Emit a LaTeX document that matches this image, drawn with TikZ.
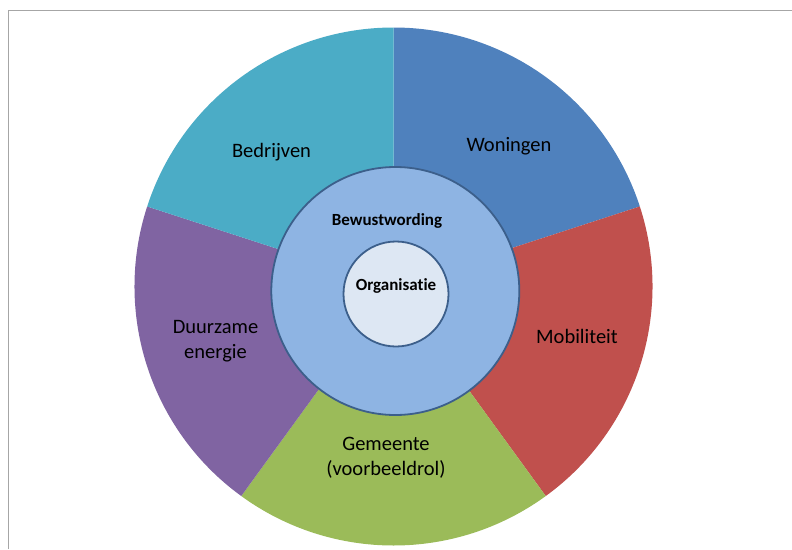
\documentclass[tikz,border=0pt]{standalone}
\usepackage{fontspec}
\setmainfont{Carlito}[RawFeature={-liga}]
\definecolor{cBed}{HTML}{4BACC6}
\definecolor{cWon}{HTML}{4F81BD}
\definecolor{cMob}{HTML}{C0504D}
\definecolor{cGem}{HTML}{9BBB59}
\definecolor{cDuu}{HTML}{8064A2}
\definecolor{cMid}{HTML}{8EB4E3}
\definecolor{cCore}{HTML}{DDE7F3}
\definecolor{cEdge}{HTML}{3C5F8B}
\definecolor{cFrame}{HTML}{A6A6A6}
\tikzset{
  outerlbl/.style={font=\fontsize{20.5}{25}\selectfont, text=black, align=center, inner sep=0pt, anchor=base},
  innerlbl/.style={font=\fontsize{17}{20}\selectfont\bfseries, text=black, inner sep=0pt, anchor=base},
  ring/.style={circle, draw=cEdge, line width=1.8pt, inner sep=0pt}
}
\begin{document}
\begin{tikzpicture}[x=1pt,y=-1pt]
\useasboundingbox (0,0) rectangle (792,549);
\fill[white] (0,0) rectangle (792,549);
% frame
\draw[cFrame, line width=1pt] (8.5,549) -- (8.5,10.5) -- (792,10.5);
\coordinate (c) at (393.5,286.5);
% wedges
\fill[cWon] (c) -- ++(90:259pt) arc[start angle=90, end angle=18, radius=259pt] -- cycle;
\fill[cMob] (c) -- ++(18:259pt) arc[start angle=18, end angle=-54, radius=259pt] -- cycle;
\fill[cGem] (c) -- ++(-54:259pt) arc[start angle=-54, end angle=-126, radius=259pt] -- cycle;
\fill[cDuu] (c) -- ++(-126:259pt) arc[start angle=-126, end angle=-198, radius=259pt] -- cycle;
\fill[cBed] (c) -- ++(162:259pt) arc[start angle=162, end angle=90, radius=259pt] -- cycle;
% circles
\node[ring, fill=cMid, minimum size=248pt] (mid) at (395.3,291) {};
\node[ring, fill=cCore, minimum size=105pt] (core) at (396,294) {};
% labels
\node[outerlbl] (bed) at (271.5,157) {Bedrijven};
\node[outerlbl] (won) at (509,151.7) {Woningen};
\node[outerlbl] (mob) at (577,343) {Mobiliteit};
\node[outerlbl] (gem) at (386,475) {Gemeente\\(voorbeeldrol)};
\node[outerlbl] (duu) at (215.5,358) {Duurzame\\energie};
\node[innerlbl] (bew) at (387,225) {Bewustwording};
\node[innerlbl] (org) at (396,290.7) {Organisatie};
\end{tikzpicture}
\end{document}
